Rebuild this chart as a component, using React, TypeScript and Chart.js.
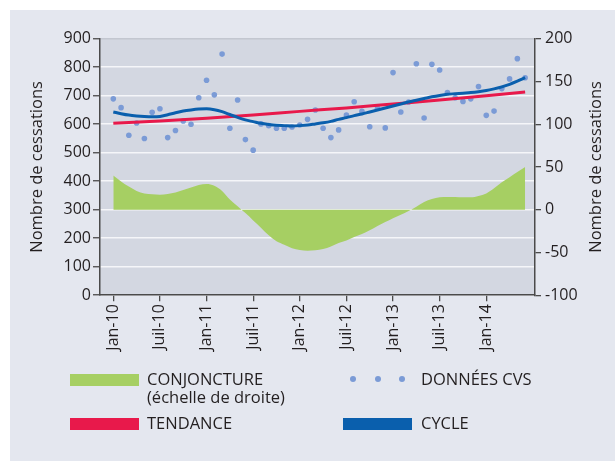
import React, { useEffect, useRef } from "react";
import { Chart, registerables } from "chart.js";

Chart.register(...registerables);

const FONT = "'Open Sans', sans-serif";
const TEXT = "#231f20";

const MONTHS = [
  "Jan-10", "Fév-10", "Mar-10", "Avr-10", "Mai-10", "Juin-10", "Juil-10", "Août-10", "Sep-10", "Oct-10", "Nov-10", "Déc-10",
  "Jan-11", "Fév-11", "Mar-11", "Avr-11", "Mai-11", "Juin-11", "Juil-11", "Août-11", "Sep-11", "Oct-11", "Nov-11", "Déc-11",
  "Jan-12", "Fév-12", "Mar-12", "Avr-12", "Mai-12", "Juin-12", "Juil-12", "Août-12", "Sep-12", "Oct-12", "Nov-12", "Déc-12",
  "Jan-13", "Fév-13", "Mar-13", "Avr-13", "Mai-13", "Juin-13", "Juil-13", "Août-13", "Sep-13", "Oct-13", "Nov-13", "Déc-13",
  "Jan-14", "Fév-14", "Mar-14", "Avr-14", "Mai-14", "Juin-14",
];

const TICK_LABELS = ["Jan-10", "Juil-10", "Jan-11", "Juil-11", "Jan-12", "Juil-12", "Jan-13", "Juil-13", "Jan-14"];

const DONNEES_CVS = [
  689, 658, 561, 604, 550, 642, 654, 553, 578, 611,
  600, 693, 754, 703, 846, 586, 685, 546, 509, 601,
  595, 586, 586, 590, 597, 617, 650, 586, 553, 580,
  632, 679, 645, 591, 656, 587, 781, 643, 678, 812,
  622, 810, 790, 711, 693, 680, 689, 732, 631, 646,
  725, 759, 830, 763,
];

const CYCLE = [
  643, 637, 632, 629, 627, 626, 627, 633, 640, 646,
  650, 653, 654, 651, 644, 634, 624, 615, 609, 603,
  599, 596, 595, 594, 595, 597, 601, 605, 610, 617,
  623, 630, 636, 643, 650, 657, 664, 671, 678, 684,
  690, 696, 701, 705, 707, 709, 711, 714, 718, 724,
  731, 740, 751, 763,
];

const CONJONCTURE = [
  40, 33, 27, 22, 19, 18, 17.5, 18.5, 20, 23,
  26, 29, 30, 28, 22, 12, 4, -4, -12.5, -21,
  -30, -37, -41, -45, -47, -48, -47.5, -46, -43, -39,
  -36, -32, -28.5, -24, -19, -14.5, -10, -6, -1.5, 3.5,
  9, 12.5, 14.5, 15, 15, 14.5, 14.5, 16, 19, 25,
  32, 38, 44, 50,
];

const TENDANCE_MONTHS = ["Jan-10", "Juil-10", "Jan-11", "Juil-11", "Jan-12", "Juil-12", "Jan-13", "Juil-13", "Jan-14", "Juin-14"];
const TENDANCE = [603, 611, 621, 632, 645, 657, 671, 685, 700, 713];

const COLORS = {
  conj: "#a6cf63",
  cvs: "#7b9bd6",
  trend: "#e8194b",
  cycle: "#0a5fad",
  panel: "#e4e7ef",
  plot: "#d3d7e1",
  axis: "#4a4a4a",
};

const AXIS_TITLE = "Nombre de cessations";

const bgAndTitles = {
  id: "bgAndTitles",
  beforeDraw(chart: any) {
    const { ctx, chartArea } = chart;
    ctx.save();
    ctx.fillStyle = COLORS.plot;
    ctx.fillRect(chartArea.left, chartArea.top, chartArea.right - chartArea.left, chartArea.bottom - chartArea.top);
    ctx.restore();
  },
  afterDraw(chart: any) {
    const { ctx, chartArea } = chart;
    const cy = (chartArea.top + chartArea.bottom) / 2;
    ctx.save();
    ctx.fillStyle = TEXT;
    ctx.font = `16.5px ${FONT}`;
    ctx.textAlign = "center";
    ctx.textBaseline = "alphabetic";
    [32, 591].forEach((x) => {
      ctx.save();
      ctx.translate(x, cy);
      ctx.rotate(-Math.PI / 2);
      ctx.fillText(AXIS_TITLE, 0, 0);
      ctx.restore();
    });
    ctx.restore();
  },
};

export default function App() {
  const ref = useRef<HTMLCanvasElement | null>(null);

  useEffect(() => {
    if (!ref.current) return;
    const idx = (m: string) => MONTHS.indexOf(m);
    const tickValues = TICK_LABELS.map(idx);

    const chart = new Chart(ref.current, {
      type: "line",
      data: {
        datasets: [
          {
            label: "CYCLE",
            data: CYCLE.map((v, i) => ({ x: i, y: v })),
            borderColor: COLORS.cycle,
            borderWidth: 3,
            pointRadius: 0,
            cubicInterpolationMode: "monotone",
            fill: false,
            yAxisID: "y",
          },
          {
            label: "TENDANCE",
            data: TENDANCE.map((v, i) => ({ x: idx(TENDANCE_MONTHS[i]), y: v })),
            borderColor: COLORS.trend,
            borderWidth: 3,
            pointRadius: 0,
            cubicInterpolationMode: "monotone",
            fill: false,
            yAxisID: "y",
          },
          {
            label: "DONNÉES CVS",
            data: DONNEES_CVS.map((v, i) => ({ x: i, y: v })),
            showLine: false,
            pointRadius: 2.8,
            pointBorderWidth: 0,
            pointBackgroundColor: COLORS.cvs,
            backgroundColor: COLORS.cvs,
            borderColor: COLORS.cvs,
            yAxisID: "y",
          },
          {
            label: "CONJONCTURE (échelle de droite)",
            data: CONJONCTURE.map((v, i) => ({ x: i, y: v })),
            borderWidth: 0,
            borderColor: COLORS.conj,
            backgroundColor: COLORS.conj,
            pointRadius: 0,
            cubicInterpolationMode: "monotone",
            fill: "origin",
            yAxisID: "y2",
          },
        ],
      },
      options: {
        animation: false,
        responsive: false,
        layout: { padding: { top: 28.7, left: 0, right: 0, bottom: 0 } },
        plugins: {
          legend: { display: false },
          tooltip: { enabled: false },
        },
        scales: {
          x: {
            type: "linear",
            min: -1.712,
            max: 54.27,
            afterBuildTicks: (axis: any) => {
              axis.ticks = tickValues.map((v) => ({ value: v }));
            },
            afterFit: (axis: any) => {
              axis.height = 360 - 285.2;
            },
            ticks: {
              autoSkip: false,
              minRotation: 90,
              maxRotation: 90,
              padding: 3,
              color: TEXT,
              font: { family: FONT, size: 16 },
              callback: (value: any) => {
                const i = tickValues.indexOf(Math.round(Number(value)));
                return i >= 0 ? TICK_LABELS[i] : "";
              },
            },
            grid: {
              drawOnChartArea: false,
              drawTicks: true,
              tickLength: 6,
              tickColor: COLORS.axis,
              lineWidth: 1.3,
            },
            border: { display: true, color: COLORS.axis, width: 1.5 },
          },
          y: {
            position: "left",
            min: 0,
            max: 900,
            afterFit: (axis: any) => {
              axis.width = 90;
            },
            ticks: {
              stepSize: 100,
              padding: 2,
              color: TEXT,
              font: { family: FONT, size: 16 },
            },
            grid: {
              color: (c: any) => (c.tick && c.tick.value === 900 ? "#c3c7d0" : "#f5f6f9"),
              lineWidth: 1.5,
              tickLength: 7,
              tickColor: COLORS.axis,
              tickWidth: 1.3,
            },
            border: { display: true, color: COLORS.axis, width: 1.5 },
          },
          y2: {
            position: "right",
            min: -100,
            max: 200,
            afterFit: (axis: any) => {
              axis.width = 80;
            },
            ticks: {
              stepSize: 50,
              padding: 4,
              color: TEXT,
              font: { family: FONT, size: 16 },
            },
            grid: {
              drawOnChartArea: false,
              tickLength: 6,
              tickColor: COLORS.axis,
              lineWidth: 1.3,
            },
            border: { display: true, color: COLORS.axis, width: 1.5 },
          },
        },
      } as any,
      plugins: [bgAndTitles],
    });
    return () => chart.destroy();
  }, []);

  const textStyle: React.CSSProperties = {
    position: "absolute",
    fontFamily: FONT,
    fontSize: 16.5,
    lineHeight: "18px",
    color: TEXT,
    whiteSpace: "nowrap",
  };
  const swatch = (color: string, left: number, top: number): React.CSSProperties => ({
    position: "absolute",
    left,
    top,
    width: 69,
    height: 12,
    background: color,
  });
  const dot = (left: number): React.CSSProperties => ({
    position: "absolute",
    left: left - 3,
    top: 369.3 - 3,
    width: 6,
    height: 6,
    borderRadius: "50%",
    background: COLORS.cvs,
  });

  return (
    <div
      style={{
        position: "fixed",
        left: 10,
        top: 10,
        width: 605,
        height: 451,
        background: COLORS.panel,
        overflow: "hidden",
      }}
    >
      <canvas ref={ref} width={605} height={360} style={{ position: "absolute", left: 0, top: 0, width: 605, height: 360 }} />
      <div style={swatch(COLORS.conj, 60, 364)} />
      <div style={{ ...textStyle, left: 137, top: 360 }}>
        CONJONCTURE
        <br />
        (échelle de droite)
      </div>
      <div style={swatch(COLORS.trend, 60, 408)} />
      <div style={{ ...textStyle, left: 137, top: 404 }}>TENDANCE</div>
      <div style={dot(342.7)} />
      <div style={dot(367.7)} />
      <div style={dot(391.7)} />
      <div style={{ ...textStyle, left: 411, top: 360 }}>DONNÉES CVS</div>
      <div style={swatch(COLORS.cycle, 332.7, 408)} />
      <div style={{ ...textStyle, left: 411, top: 404 }}>CYCLE</div>
    </div>
  );
}
